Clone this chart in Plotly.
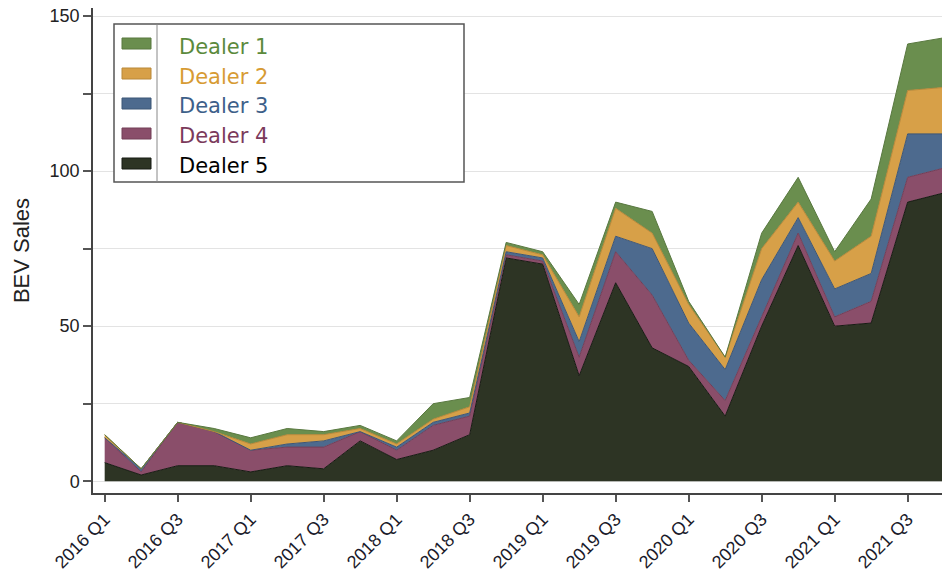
import plotly.graph_objects as go

quarters = ["2016 Q1", "2016 Q2", "2016 Q3", "2016 Q4",
            "2017 Q1", "2017 Q2", "2017 Q3", "2017 Q4",
            "2018 Q1", "2018 Q2", "2018 Q3", "2018 Q4",
            "2019 Q1", "2019 Q2", "2019 Q3", "2019 Q4",
            "2020 Q1", "2020 Q2", "2020 Q3", "2020 Q4",
            "2021 Q1", "2021 Q2", "2021 Q3", "2021 Q4"]

dealer5 = [6, 2, 5, 5, 3, 5, 4, 13, 7, 10, 15, 72, 70, 34, 64, 43, 37, 21, 50, 76, 50, 51, 90, 93]
dealer4 = [8, 1, 14, 11, 7, 6, 7, 3, 3, 8, 6, 1, 1, 6, 10, 17, 2, 5, 3, 4, 3, 7, 8, 8]
dealer3 = [0, 1, 0, 0, 0, 1, 2, 0, 1, 1, 1, 1, 1, 5, 5, 15, 12, 10, 12, 5, 9, 9, 14, 11]
dealer2 = [1, 0, 0, 0, 2, 3, 2, 1, 1, 1, 2, 2, 1, 8, 9, 5, 6, 4, 10, 5, 9, 12, 14, 15]
dealer1 = [0, 0, 0, 1, 2, 2, 1, 1, 1, 5, 3, 1, 1, 4, 2, 7, 1, 0, 5, 8, 3, 12, 15, 16]

series_names = ["Dealer 1", "Dealer 2", "Dealer 3", "Dealer 4", "Dealer 5"]
fill_colors = ["#6a8e4e", "#d7a048", "#4d6a8e", "#8a4e6a", "#2d3424"]
edge_colors = ["#58783f", "#b98838", "#3d5676", "#733e57", "#161a12"]
text_colors = ["#5b8a3c", "#d79b33", "#3d6089", "#7b3a5b", "#000000"]

y_tickvals = [0, 25, 50, 75, 100, 125, 150]
y_ticktext = ["0", "", "50", "", "100", "", "150"]

fig = go.Figure()
stack = [(dealer5, 4), (dealer4, 3), (dealer3, 2), (dealer2, 1), (dealer1, 0)]
for vals, k in stack:
    fig.add_trace(go.Scatter(
        x=quarters, y=vals, name=series_names[k], mode="lines",
        stackgroup="one", line=dict(color=edge_colors[k], width=1),
        fillcolor=fill_colors[k], showlegend=False,
    ))

# page has an 8px body margin; the figure is laid out to compensate
OFF = 8
W, H = 950 - OFF, 571 - OFF
L, R, T, B = 93 - OFF, 950 - OFF, 0, 493 - OFF


def px(x):
    return (x - OFF - L) / (R - L)


def py(y):
    return (B - (y - OFF)) / (B - T)


shapes = []
annotations = []
shapes.append(dict(type="rect", xref="paper", yref="paper",
                   x0=px(114), x1=px(464), y0=py(182), y1=py(24),
                   line=dict(color="#555555", width=1.5), fillcolor="white", layer="above"))
shapes.append(dict(type="line", xref="paper", yref="paper",
                   x0=px(157), x1=px(157), y0=py(182), y1=py(24),
                   line=dict(color="#888888", width=1), layer="above"))
for i, name in enumerate(series_names):
    cy = 43.5 + 30 * i
    shapes.append(dict(type="rect", xref="paper", yref="paper",
                       x0=px(122), x1=px(151), y0=py(cy + 5.5), y1=py(cy - 5.5),
                       line=dict(color=edge_colors[i], width=1),
                       fillcolor=fill_colors[i], layer="above"))
    annotations.append(dict(xref="paper", yref="paper", x=px(177), y=py(cy + 3),
                            xanchor="left", yanchor="middle", showarrow=False,
                            text=name,
                            font=dict(family="DejaVu Sans", size=21, color=text_colors[i])))

fig.update_layout(
    width=W, height=H,
    margin=dict(l=L, r=W - R, t=T, b=H - B, autoexpand=False),
    paper_bgcolor="white", plot_bgcolor="white",
    font=dict(family="Liberation Sans, Arial", color="#222222"),
    shapes=shapes, annotations=annotations,
    showlegend=False,
    xaxis=dict(
        type="category", range=[-0.32, 23.16], dtick=2, tick0=0,
        tickangle=-45, tickfont=dict(size=18, color="#1a1a2a"),
        ticks="outside", ticklen=7, tickcolor="#555555", tickwidth=1.5,
        showline=True, linecolor="#444444", linewidth=1.5,
        showgrid=False, zeroline=False, automargin=False,
        ticklabeloverflow="allow",
    ),
    yaxis=dict(
        range=[-3.8, 152.6], tickmode="array", tickvals=y_tickvals, ticktext=y_ticktext,
        tickfont=dict(size=18, color="#222222"),
        ticks="outside", ticklen=8, tickcolor="#555555", tickwidth=1.5,
        showline=True, linecolor="#444444", linewidth=1.5,
        showgrid=True, gridcolor="#e3e3e3", gridwidth=1, zeroline=False,
        automargin=False, ticklabeloverflow="allow",
        title=dict(text="BEV Sales", font=dict(size=22, color="#222222"), standoff=14),
    ),
)

fig.write_html("out.html")
